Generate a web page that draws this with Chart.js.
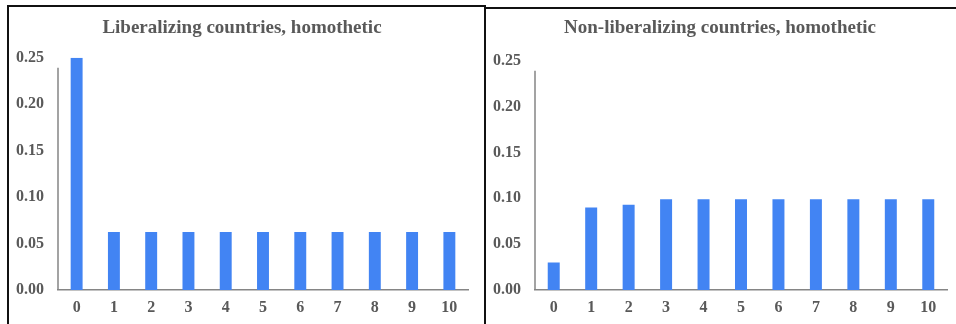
<!DOCTYPE html>
<html lang="en">
  <head>
    <meta charset="UTF-8" />
    <title>Liberalizing vs non-liberalizing countries</title>
    <style>
      body {
        margin: 0;
        width: 956px;
        height: 324px;
        background: #fff;
        position: relative;
        overflow: hidden;
      }

      .panel {
        position: absolute;
        box-sizing: border-box;
      }

      #left {
        left: 7px;
        top: 5px;
        width: 479px;
        height: 330px;
        border-left: 2px solid #111;
        border-top: 2px solid #111;
        border-right: 2px solid #111;
      }

      #right {
        left: 484px;
        top: 7px;
        width: 480px;
        height: 330px;
        border-top: 2px solid #111;
      }

      canvas {
        position: absolute;
      }

      #chart-left {
        left: 8px;
        top: 6px;
      }

      #chart-right {
        left: 486px;
        top: 8px;
      }
    </style>
  </head>
  <body>
    <div class="panel" id="left"></div>
    <div class="panel" id="right"></div>
    <canvas id="chart-left" width="476" height="318"></canvas>
    <canvas id="chart-right" width="470" height="316"></canvas>
  </body>
  <script src="https://cdn.jsdelivr.net/npm/chart.js@4.4.0/dist/chart.umd.min.js"></script>
  <script>
    let categories = ['0', '1', '2', '3', '4', '5', '6', '7', '8', '9', '10'];
    let liberalizing = [0.25, 0.0625, 0.0625, 0.0625, 0.0625, 0.0625, 0.0625, 0.0625, 0.0625, 0.0625, 0.0625];
    let nonLiberalizing = [0.03, 0.09, 0.093, 0.099, 0.099, 0.099, 0.099, 0.099, 0.099, 0.099, 0.099];
    let yTicks = [0, 0.05, 0.1, 0.15, 0.2, 0.25];

    const barColor = '#4284f3';
    const textColor = '#595959';
    const axisColor = '#858585';
    const serif = "'Liberation Serif', 'Times New Roman', serif";

    // y axis line in the original starts a little below the top tick
    const yAxisLine = {
      id: 'yAxisLine',
      afterDraw(chart) {
        const s = chart.scales.y;
        const ctx = chart.ctx;
        ctx.save();
        ctx.strokeStyle = axisColor;
        ctx.lineWidth = 1.5;
        ctx.beginPath();
        ctx.moveTo(s.right, s.top + 10);
        ctx.lineTo(s.right, s.bottom);
        ctx.stroke();
        ctx.restore();
      },
    };

    function makeChart(id, title, values, pad) {
      return new Chart(document.getElementById(id), {
        type: 'bar',
        data: {
          labels: categories,
          datasets: [
            {
              data: values,
              backgroundColor: barColor,
              categoryPercentage: 1,
              barPercentage: 0.32,
            },
          ],
        },
        options: {
          responsive: false,
          animation: false,
          layout: { padding: pad },
          plugins: {
            legend: { display: false },
            tooltip: { enabled: false },
            title: {
              display: true,
              text: title,
              color: textColor,
              font: { family: serif, size: 19, weight: 'bold' },
              padding: { top: pad.titleTop, bottom: pad.titleBottom },
            },
          },
          scales: {
            x: {
              afterFit: (scale) => {
                scale.height = 26;
              },
              grid: { display: false, drawTicks: false },
              border: { display: true, color: axisColor, width: 1.5 },
              ticks: {
                color: textColor,
                padding: 8,
                font: { family: serif, size: 16, weight: 'bold' },
              },
            },
            y: {
              min: 0,
              max: 0.25,
              afterBuildTicks: (scale) => {
                scale.ticks = yTicks.map((v) => ({ value: v }));
              },
              afterFit: (scale) => {
                scale.width = pad.yWidth;
              },
              grid: { display: false, drawTicks: false },
              border: { display: false },
              ticks: {
                color: textColor,
                padding: 14,
                font: { family: serif, size: 16, weight: 'bold' },
                callback: (v) => v.toFixed(2),
              },
            },
          },
        },
        plugins: [yAxisLine],
      });
    }

    makeChart('chart-left', 'Liberalizing countries, homothetic', liberalizing, {
      left: 8,
      right: 16,
      top: 0,
      bottom: 8,
      titleTop: 11,
      titleBottom: 18,
      yWidth: 42,
    });

    makeChart('chart-right', 'Non-liberalizing countries, homothetic', nonLiberalizing, {
      left: 7,
      right: 9,
      top: 0,
      bottom: 8,
      titleTop: 9,
      titleBottom: 21,
      yWidth: 42,
    });
  </script>
</html>
